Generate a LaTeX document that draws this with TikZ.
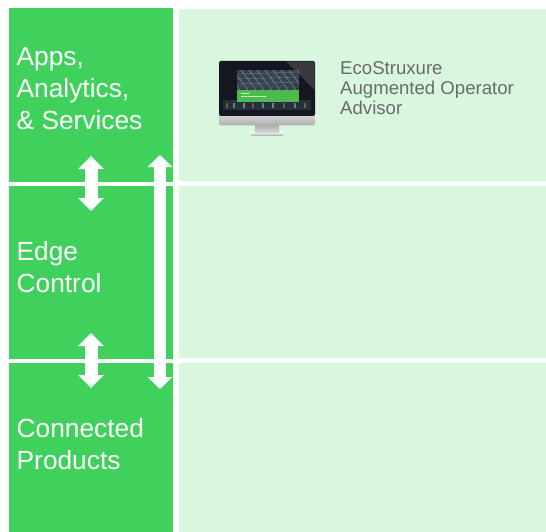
\documentclass[tikz,border=0pt]{standalone}
\usepackage{fontspec}
\setmainfont{Liberation Sans}
\usetikzlibrary{arrows.meta,shadings}
\definecolor{bandgreen}{HTML}{40D15C}
\definecolor{panelgreen}{HTML}{D9F6DF}
\definecolor{greytext}{HTML}{696B6B}
\definecolor{screenblack}{HTML}{14171F}
\definecolor{latticeblue}{HTML}{33404F}
\definecolor{screengreen}{HTML}{4DBB50}
\tikzset{
  x=1pt,y=-1pt,
  band/.style={fill=bandgreen,draw=none},
  panel/.style={fill=panelgreen,draw=none},
  layertext/.style={anchor=base west,inner sep=0pt,text=white,font=\fontsize{26.3}{32}\selectfont},
  prodtext/.style={anchor=base west,inner sep=0pt,text=greytext,font=\fontsize{18.6}{20}\selectfont},
  smallflow/.style={draw=white,line width=13pt,{Triangle[length=13pt,width=25pt]}-{Triangle[length=13pt,width=25pt]}},
  bigflow/.style={draw=white,line width=12pt,{Triangle[length=12pt,width=24pt]}-{Triangle[length=12pt,width=24pt]}},
}
\begin{document}
\begin{tikzpicture}
\useasboundingbox (0,0) rectangle (546,532);
\fill[white] (0,0) rectangle (546,532);
% left bands
\fill[band] (9,8) rectangle (173,182);
\fill[band] (9,186) rectangle (173,359);
\fill[band] (9,363) rectangle (173,532);
% right panels
\fill[panel] (179,9) rectangle (546,181);
\fill[panel] (179,186) rectangle (546,358);
\fill[panel] (179,363) rectangle (546,532);
% layer labels
\node[layertext] (apps) at (16.5,66) {Apps,};
\node[layertext] (analytics) at (16.5,98) {Analytics,};
\node[layertext] (services) at (16.5,130) {\&~Services};
\node[layertext] (edge) at (16.5,260) {Edge};
\node[layertext] (control) at (16.5,292) {Control};
\node[layertext] (connected) at (16.5,437) {Connected};
\node[layertext] (products) at (16.5,469) {Products};
% product labels
\node[prodtext] (eco) at (340,75) {EcoStruxure};
\node[prodtext] (augmented) at (340,95) {Augmented Operator};
\node[prodtext] (advisor) at (340,115) {Advisor};
% arrows
\coordinate (a1top) at (91,156);
\coordinate (a1bot) at (91,211);
\coordinate (a2top) at (91,333);
\coordinate (a2bot) at (91,388);
\coordinate (a3top) at (160,155);
\coordinate (a3bot) at (160,389);
\draw[smallflow] (a1top) -- (a1bot);
\draw[smallflow] (a2top) -- (a2bot);
\draw[bigflow] (a3top) -- (a3bot);
% monitor
\shade[top color=black!10,bottom color=black!32] (251,133) rectangle (283,135.5);
\shade[top color=black!32,bottom color=black!14] (255,125) rectangle (279,133);
\shade[top color=black!12,bottom color=black!32,rounded corners=2pt] (219,112) rectangle (315,125.5);
\fill[screenblack,rounded corners=2pt] (219,61) -- (315,61) -- (315,116) -- (219,116) -- cycle;
\fill[black!60,opacity=.45] (286,61.5) -- (313,61.5) -- (314.5,63) -- (314.5,90) -- cycle;
% wallpaper
\fill[latticeblue] (237,70) rectangle (299,90);
\begin{scope}
\clip (237,70) rectangle (299,90);
\foreach \i in {0,...,9} {
  \draw[white!45!latticeblue,line width=.5pt] (225+\i*8,70) -- (240+\i*8,90);
  \draw[black!70,line width=.6pt] (230+\i*8,90) -- (245+\i*8,70);
}
\foreach \j in {74,79,84} \draw[white!30!latticeblue,line width=.4pt] (237,\j) -- (299,\j-2);
\end{scope}
\fill[screengreen] (237,90) rectangle (299,102);
\draw[white!70!screengreen,line width=.4pt] (241,93.5) -- (249,93.5);
\draw[white!70!screengreen,line width=.4pt] (241,96.5) -- (266,96.5);
% city lights strip
\fill[latticeblue!75!black] (223,102) rectangle (299,110);
\fill[latticeblue!75!black] (223,100) rectangle (237,110);
\fill[latticeblue!75!black] (299,100) rectangle (311,110);
\foreach \x/\c in {226/orange,233/cyan,243/white,252/orange,262/cyan,272/white,283/orange,294/cyan,304/orange}
  \fill[\c!35!latticeblue] (\x,103.5) rectangle (\x+2,108);
\fill[screenblack] (223,110) rectangle (311,113);
\end{tikzpicture}
\end{document}
